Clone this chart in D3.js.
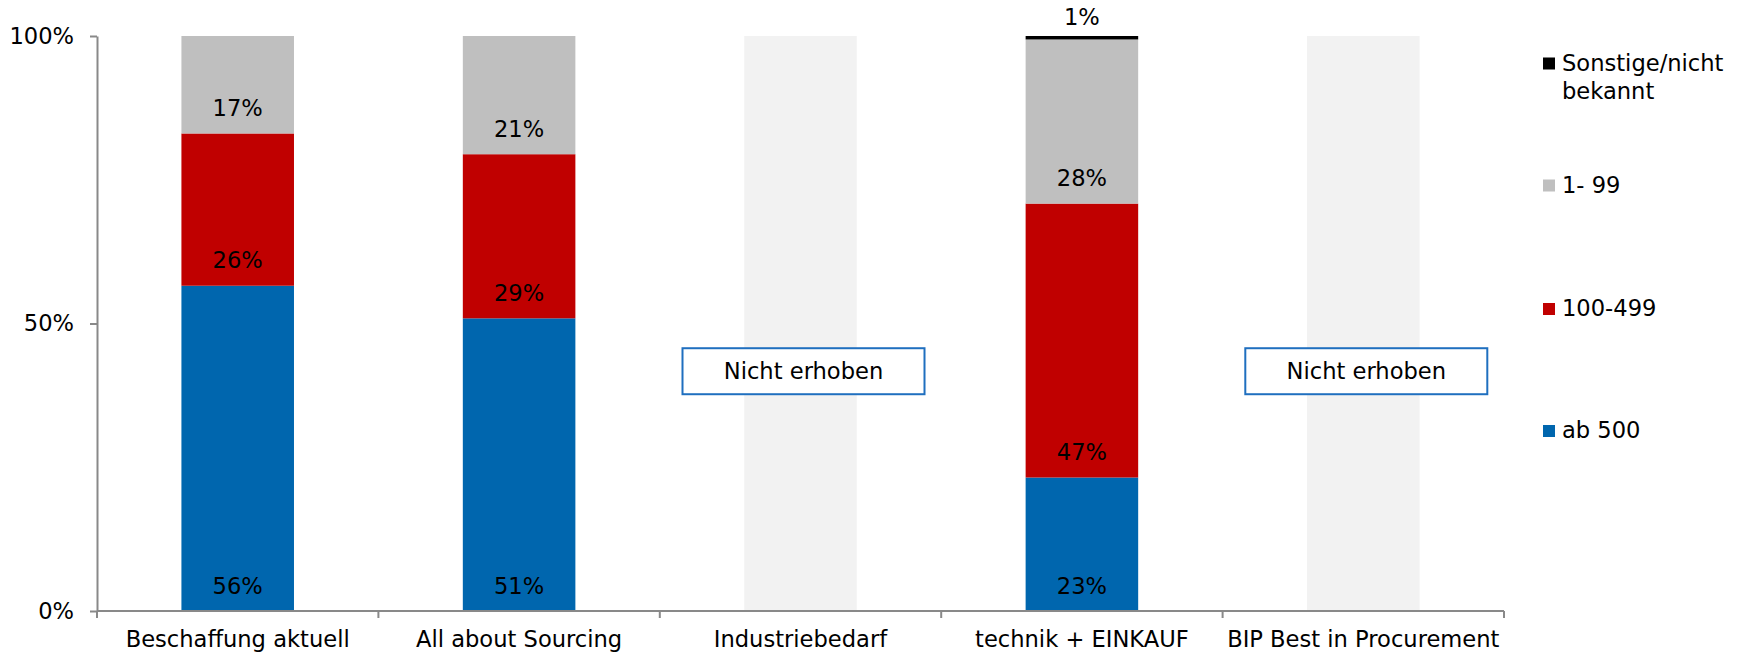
<!DOCTYPE html>
<html>
<head>
<meta charset="utf-8">
<script src="https://cdn.jsdelivr.net/npm/d3@7"></script>
<style>
  html, body { margin: 0; padding: 0; background: #fff; }
  svg { display: block; font-family: "DejaVu Sans", Verdana, sans-serif; }
</style>
</head>
<body>
<svg id="chart" width="1744" height="654"></svg>
<script>
// ---- data ----
const categories = ["Beschaffung aktuell", "All about Sourcing", "Industriebedarf", "technik + EINKAUF", "BIP Best in Procurement"];
const surveyed   = [true, true, false, true, false];
const seriesNames = ["ab 500", "100-499", "1- 99", "Sonstige/nicht bekannt"];
const ab500      = [56.4, 51.0, null, 23.1, null];
const s100to499  = [26.4, 28.6, null, 47.4, null];
const s1to99     = [16.9, 20.6, null, 28.4, null];
const sonstige   = [0,    0,    null, 0.6,  null];
const yTicks     = [0, 50, 100];
const notSurveyedText = "Nicht erhoben";
const notSurveyedLevel = 41.7;

const seriesValues = [ab500, s100to499, s1to99, sonstige];
const colors = ["#0066AE", "#C00000", "#BFBFBF", "#000000"];

// ---- layout ----
const svg = d3.select("#chart");
const x = d3.scaleBand().domain(categories).range([97, 1504]).paddingInner(0).paddingOuter(0);
const y = d3.scaleLinear().domain([0, 100]).range([611, 36]);
const barW = x.bandwidth() * 0.4;
const fontSize = 22.6;

// placeholder bars for non-surveyed categories
categories.forEach((c, i) => {
  if (!surveyed[i]) {
    const cx = x(c) + x.bandwidth() / 2;
    svg.append("rect")
      .attr("x", cx - barW / 2).attr("width", barW)
      .attr("y", y(100)).attr("height", y(0) - y(100))
      .attr("fill", "#F2F2F2");
  }
});

// stacked bars (100% stacked: normalised per category)
categories.forEach((c, i) => {
  if (!surveyed[i]) return;
  const total = d3.sum(seriesValues, s => s[i]);
  let acc = 0;
  const cx = x(c) + x.bandwidth() / 2;
  seriesValues.forEach((s, k) => {
    const v = s[i];
    if (!v) return;
    const y0 = acc / total * 100, y1 = (acc + v) / total * 100;
    acc += v;
    svg.append("rect")
      .attr("x", cx - barW / 2).attr("width", barW)
      .attr("y", y(y1)).attr("height", y(y0) - y(y1))
      .attr("fill", colors[k]);
    const label = Math.round(v) + "%";
    if (k === 3) {
      svg.append("text")
        .attr("x", cx).attr("y", y(100) - 11)
        .attr("text-anchor", "middle")
        .attr("font-size", fontSize).attr("fill", "#000")
        .text(label);
    } else {
      svg.append("text")
        .attr("x", cx).attr("y", y(y0) - 17.5)
        .attr("text-anchor", "middle")
        .attr("font-size", fontSize).attr("fill", "#000")
        .text(label);
    }
  });
});

// y axis
const yAxis = d3.axisLeft(y).tickValues(yTicks).tickFormat(d => d + "%")
  .tickSize(7).tickSizeOuter(0).tickPadding(16);
const gy = svg.append("g").attr("transform", "translate(97,0)").call(yAxis);
gy.select(".domain").attr("stroke", "#898989").attr("stroke-width", 2);
gy.selectAll(".tick line").attr("stroke", "#898989").attr("stroke-width", 2);
gy.selectAll(".tick text").attr("font-size", fontSize).attr("fill", "#000")
  .attr("font-family", "DejaVu Sans, Verdana, sans-serif");

// x axis line with boundary ticks
const gx = svg.append("g");
gx.append("line").attr("x1", x.range()[0]).attr("x2", x.range()[1])
  .attr("y1", y(0)).attr("y2", y(0)).attr("stroke", "#898989").attr("stroke-width", 2);
const bounds = categories.map(c => x(c)).concat([x.range()[1]]);
gx.selectAll("line.tk").data(bounds).join("line").attr("class", "tk")
  .attr("x1", d => d).attr("x2", d => d)
  .attr("y1", y(0)).attr("y2", y(0) + 7)
  .attr("stroke", "#898989").attr("stroke-width", 2);
gx.selectAll("text.cat").data(categories).join("text").attr("class", "cat")
  .attr("x", d => x(d) + x.bandwidth() / 2).attr("y", y(0) + 36)
  .attr("text-anchor", "middle").attr("font-size", fontSize).attr("fill", "#000")
  .text(d => d);

// "Nicht erhoben" boxes
categories.forEach((c, i) => {
  if (surveyed[i]) return;
  const cx = x(c) + x.bandwidth() / 2 + 3;
  const cy = y(notSurveyedLevel);
  const bw = 242, bh = 46;
  svg.append("rect")
    .attr("x", cx - bw / 2).attr("y", cy - bh / 2)
    .attr("width", bw).attr("height", bh)
    .attr("fill", "#fff").attr("stroke", "#1F6FBF").attr("stroke-width", 2);
  svg.append("text")
    .attr("x", cx).attr("y", cy + 8)
    .attr("text-anchor", "middle").attr("font-size", fontSize).attr("fill", "#000")
    .text(notSurveyedText);
});

// legend (top to bottom: Sonstige, 1-99, 100-499, ab 500)
const legendOrder = [3, 2, 1, 0];
const legendY = [63.5, 185.5, 309, 431];
legendOrder.forEach((k, j) => {
  const cy = legendY[j];
  svg.append("rect").attr("x", 1543).attr("y", cy - 6).attr("width", 12).attr("height", 12)
    .attr("fill", colors[k]);
  const t = svg.append("text").attr("x", 1562).attr("y", cy + 7)
    .attr("font-size", fontSize).attr("fill", "#000");
  const name = seriesNames[k];
  if (name === "Sonstige/nicht bekannt") {
    t.append("tspan").attr("x", 1562).text("Sonstige/nicht");
    t.append("tspan").attr("x", 1562).attr("dy", 28).text("bekannt");
  } else {
    t.text(name);
  }
});
</script>
</body>
</html>
